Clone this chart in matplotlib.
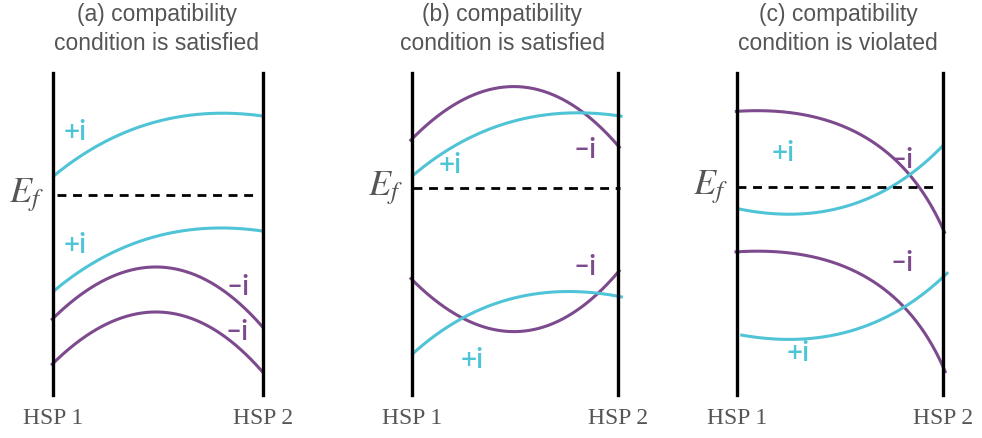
import numpy as np
import matplotlib
matplotlib.use("Agg")
import matplotlib.pyplot as plt

plt.rcParams["mathtext.fontset"] = "stix"

# band energies sampled along the path HSP 1 -> HSP 2 (x is the fraction of the path)
titles = ["(a) compatibility\ncondition is satisfied",
          "(b) compatibility\ncondition is satisfied",
          "(c) compatibility\ncondition is violated"]

# panel (a)
a_cyan_x = [0, 0.28, 0.52, 0.72, 1.0]
a_cyan_hi = [1.9, 5.5, 7.5, 8.3, 7.8]
a_cyan_lo = [-9.6, -6.0, -3.9, -3.2, -3.7]
a_purple_x = [0, 0.28, 0.5, 0.755, 0.995]
a_purple_hi = [-12.5, -8.2, -6.8, -8.8, -13.3]
a_purple_lo = [-17.0, -12.7, -11.3, -13.3, -17.8]

# panel (b)
b_purple_x = [0, 0.267, 0.49, 0.75, 1.0]
b_purple_hi = [5.4, 9.8, 11.1, 9.5, 4.7]
b_purple_lo = [-8.3, -12.5, -14.0, -12.3, -7.5]
b_cyan_x = [0, 0.267, 0.51, 0.75, 1.02]
b_cyan_hi = [1.9, 5.5, 7.5, 8.3, 7.8]
b_cyan_lo = [-16.0, -12.0, -10.2, -9.7, -10.2]

# panel (c)
c_purple_x = [0, 0.126, 0.45, 0.694, 0.84, 0.937, 1.0]
c_purple_hi = [8.3, 8.5, 7.2, 5.0, 2.2, -0.8, -3.8]
c_purple_lo = [-5.7, -5.6, -6.8, -9.2, -11.2, -14.5, -17.8]
c_cyan_hi_x = [0, 0.23, 0.45, 0.694, 0.84, 1.0]
c_cyan_hi = [-1.3, -1.9, -1.7, 0.2, 2.2, 4.9]
c_cyan_lo_x = [0.02, 0.29, 0.53, 0.825, 1.02]
c_cyan_lo = [-14.0, -14.4, -13.7, -11.2, -7.7]

# Fermi level and its dash extent per panel
ef_level = [0.0, 0.7, 0.8]
ef_span = [(0.02, 0.976), (0.005, 1.01), (0.0, 0.976)]

# band labels: (text, x, energy, colour key)
band_labels = [
    [("+i", 0.105, 6.3, "c"), ("+i", 0.105, -5.0, "c"),
     ("–i", 0.88, -9.2, "p"), ("–i", 0.876, -13.7, "p")],
    [("+i", 0.184, 3.0, "c"), ("–i", 0.84, 4.5, "p"),
     ("–i", 0.84, -7.2, "p"), ("+i", 0.29, -16.5, "c")],
    [("+i", 0.223, 4.2, "c"), ("–i", 0.80, 3.5, "p"),
     ("–i", 0.80, -6.8, "p"), ("+i", 0.296, -15.8, "c")],
]

curves = [
    [(a_cyan_x, a_cyan_hi, "c"), (a_cyan_x, a_cyan_lo, "c"),
     (a_purple_x, a_purple_hi, "p"), (a_purple_x, a_purple_lo, "p")],
    [(b_purple_x, b_purple_hi, "p"), (b_cyan_x, b_cyan_hi, "c"),
     (b_purple_x, b_purple_lo, "p"), (b_cyan_x, b_cyan_lo, "c")],
    [(c_purple_x, c_purple_hi, "p"), (c_cyan_hi_x, c_cyan_hi, "c"),
     (c_purple_x, c_purple_lo, "p"), (c_cyan_lo_x, c_cyan_lo, "c")],
]

colors = {"c": "#4fc4d6", "p": "#7d4a8e"}
gray = "#555555"

# pixel extents of the HSP lines in each panel
panel_px = [(53, 263), (412, 618), (737, 943)]
top_px, bot_px = 73, 395
ylim = (-20.0, 12.2)


def smooth_band(xs, ys, deg=2, n=300):
    """Least-squares parametric curve through the sampled band energies."""
    xs = np.asarray(xs, float)
    ys = np.asarray(ys, float)
    # chord length in roughly isotropic units (one path ~ 20 energy units wide)
    d = np.hypot(np.diff(xs) * 20.0, np.diff(ys))
    t = np.concatenate([[0.0], np.cumsum(d)])
    t /= t[-1]
    cx = np.polyfit(t, xs, deg)
    cy = np.polyfit(t, ys, deg)
    tt = np.linspace(0, 1, n)
    return np.polyval(cx, tt), np.polyval(cy, tt)


W, H = 982, 438
fig = plt.figure(figsize=(W / 100, H / 100), dpi=100)

for k in range(3):
    lx, rx = panel_px[k]
    ax = fig.add_axes([lx / W, 1 - bot_px / H, (rx - lx) / W, (bot_px - top_px) / H])
    ax.set_xlim(0, 1)
    ax.set_ylim(*ylim)
    ax.axis("off")

    for xs, ys, ck in curves[k]:
        bx, by = smooth_band(xs, ys)
        ax.plot(bx, by, color=colors[ck], lw=2.2,
                solid_capstyle="butt", clip_on=False)

    for x in (0, 1):
        ax.plot([x, x], ylim, color="black", lw=2.4, clip_on=False)

    ax.plot(ef_span[k], [ef_level[k]] * 2, color="black", lw=2.0,
            linestyle=(0, (3.2, 2.4)), clip_on=False)

    for txt, x, y, ck in band_labels[k]:
        ax.text(x, y, txt, color=colors[ck], fontsize=20, fontfamily="Lato",
                fontweight="semibold", ha="center", va="center")

    ax.text(-0.045, ef_level[k] - 0.7, r"$E_f$", color=gray, fontsize=26,
            ha="right", va="baseline")

    ax.text(0, -22.4, "HSP 1", color=gray, fontsize=17,
            fontfamily="Liberation Serif", ha="center", va="center")
    ax.text(1, -22.4, "HSP 2", color=gray, fontsize=17,
            fontfamily="Liberation Serif", ha="center", va="center")

    title_x = [0.495, 0.437, 0.49][k]
    ax.text(title_x, 16.6, titles[k], color=gray, fontsize=16.5,
            fontfamily="Liberation Sans", ha="center", va="center",
            linespacing=1.3)

fig.savefig("out.png", dpi=100)
